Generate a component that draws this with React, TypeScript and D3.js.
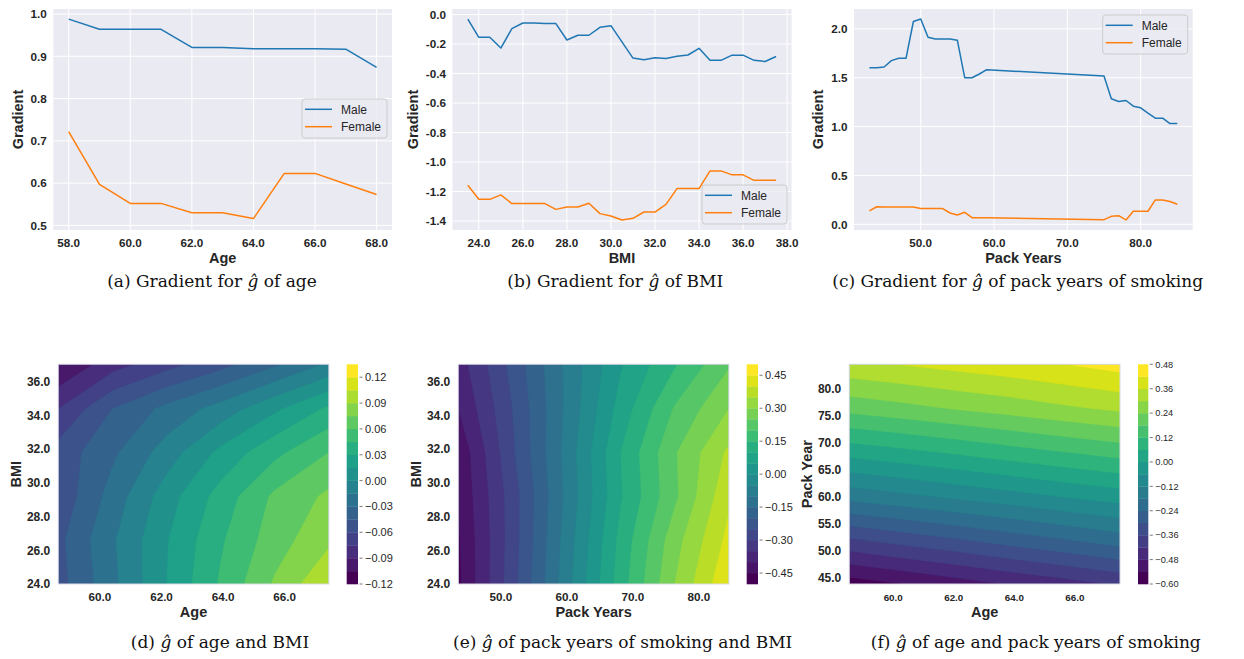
import React from "react";
import * as d3 from "d3";

const SANS = "'Liberation Sans', Arial, sans-serif";
const SERIF = "'DejaVu Serif', serif";
const INK = "#262626";

// ---- (a) gradient of g over age
const ageX = [58, 59, 60, 61, 62, 63, 64, 65, 66, 67, 68];
const ageMale = [0.988, 0.964, 0.964, 0.964, 0.921, 0.921, 0.918, 0.918, 0.918, 0.917, 0.874];
const ageFemale = [0.722, 0.597, 0.552, 0.552, 0.53, 0.53, 0.516, 0.623, 0.623, 0.598, 0.573];

// ---- (b) gradient over BMI
const bmiX = [23.5, 24, 24.5, 25, 25.5, 26, 26.5, 27, 27.5, 28, 28.5, 29, 29.5, 30, 30.5, 31, 31.5, 32, 32.5, 33, 33.5, 34, 34.5, 35, 35.5, 36, 36.5, 37, 37.5];
const bmiMale = [-0.03, -0.154, -0.154, -0.227, -0.095, -0.057, -0.057, -0.061, -0.061, -0.172, -0.14, -0.14, -0.086, -0.075, -0.185, -0.295, -0.306, -0.292, -0.297, -0.283, -0.274, -0.229, -0.31, -0.31, -0.275, -0.275, -0.31, -0.318, -0.284];
const bmiFemale = [-1.158, -1.253, -1.253, -1.223, -1.282, -1.282, -1.282, -1.282, -1.321, -1.305, -1.305, -1.28, -1.35, -1.366, -1.393, -1.382, -1.339, -1.339, -1.287, -1.18, -1.18, -1.18, -1.06, -1.06, -1.087, -1.087, -1.124, -1.124, -1.124];

// ---- (c) gradient over pack years
const packX = [43, 44, 45, 46, 47, 48, 49, 50, 51, 52, 53, 54, 55, 56, 57, 58, 59, 75, 76, 77, 78, 79, 80, 81, 82, 83, 84, 85];
const packMale = [1.603, 1.603, 1.61, 1.675, 1.7, 1.7, 2.075, 2.1, 1.914, 1.897, 1.897, 1.897, 1.883, 1.5, 1.5, 1.538, 1.582, 1.517, 1.284, 1.257, 1.267, 1.209, 1.192, 1.137, 1.086, 1.086, 1.031, 1.031];
const packFemale = [0.137, 0.18, 0.178, 0.178, 0.178, 0.178, 0.178, 0.161, 0.161, 0.161, 0.161, 0.116, 0.096, 0.123, 0.068, 0.068, 0.068, 0.048, 0.082, 0.089, 0.045, 0.134, 0.134, 0.134, 0.25, 0.25, 0.233, 0.205];

// ---- (d) g over age x BMI (rows = BMI ascending)
const dAge = [58.65, 60.4, 62.2, 63.9, 65.7, 67.43];
const dBmi = [24, 26.6, 29.2, 31.8, 34.4, 37];
const dGrid = [
  [-0.051, -0.019, 0.015, 0.047, 0.077, 0.104],
  [-0.049, -0.017, 0.014, 0.043, 0.068, 0.087],
  [-0.056, -0.024, 0.008, 0.036, 0.063, 0.078],
  [-0.054, -0.033, -0.008, 0.019, 0.041, 0.06],
  [-0.075, -0.045, -0.026, -0.009, 0.012, 0.033],
  [-0.105, -0.081, -0.065, -0.05, -0.032, -0.012],
];
const dLevels = [-0.12, -0.105, -0.09, -0.075, -0.06, -0.045, -0.03, -0.015, 0, 0.015, 0.03, 0.045, 0.06, 0.075, 0.09, 0.105, 0.12, 0.135];
const dBarTicks = [-0.12, -0.09, -0.06, -0.03, 0, 0.03, 0.06, 0.09, 0.12];

// ---- (e) g over pack years x BMI
const ePack = [43.55, 51.75, 59.95, 68.15, 76.35, 84.53];
const eBmi = [24, 26.6, 29.2, 31.8, 34.4, 37];
const eGrid = [
  [-0.46, -0.27, -0.07, 0.125, 0.3, 0.445],
  [-0.455, -0.275, -0.078, 0.115, 0.28, 0.415],
  [-0.445, -0.275, -0.088, 0.095, 0.24, 0.39],
  [-0.44, -0.258, -0.083, 0.1, 0.245, 0.36],
  [-0.4, -0.25, -0.09, 0.07, 0.205, 0.3],
  [-0.375, -0.235, -0.09, 0.045, 0.145, 0.245],
];
const eLevels = [-0.5, -0.45, -0.4, -0.35, -0.3, -0.25, -0.2, -0.15, -0.1, -0.05, 0, 0.05, 0.1, 0.15, 0.2, 0.25, 0.3, 0.35, 0.4, 0.45, 0.5];
const eBarTicks = [-0.45, -0.3, -0.15, 0, 0.15, 0.3, 0.45];

// ---- (f) g over age x pack years
const fAge = [58.55, 60.34, 62.13, 63.92, 65.71, 67.49];
const fPack = [43.76, 51.9, 60.03, 68.17, 76.3, 84.44];
const fGrid = [
  [-0.57, -0.54, -0.507, -0.474, -0.444, -0.411],
  [-0.369, -0.336, -0.306, -0.273, -0.243, -0.21],
  [-0.156, -0.132, -0.105, -0.081, -0.054, -0.03],
  [0.021, 0.045, 0.069, 0.096, 0.12, 0.144],
  [0.201, 0.222, 0.246, 0.267, 0.291, 0.312],
  [0.345, 0.363, 0.381, 0.399, 0.42, 0.444],
];
const fLevels = [-0.6, -0.54, -0.48, -0.42, -0.36, -0.3, -0.24, -0.18, -0.12, -0.06, 0, 0.06, 0.12, 0.18, 0.24, 0.3, 0.36, 0.42, 0.48];
const fBarTicks = [-0.6, -0.48, -0.36, -0.24, -0.12, 0, 0.12, 0.24, 0.36, 0.48];

const seriesNames = ["Male", "Female"];
const seriesColors = ["#1f77b4", "#ff7f0e"];

type Rect = { x0: number; x1: number; y0: number; y1: number };

function Caption({ x, y, pre, post }: { x: number; y: number; pre: string; post: string }) {
  return (
    <text x={x} y={y} textAnchor="middle" fontFamily={SERIF} fontSize={17} fill="#111">
      {pre}
      <tspan fontStyle="italic">ĝ</tspan>
      {post}
    </text>
  );
}

function LinePanel(props: {
  rect: Rect; xDomain: [number, number]; yDomain: [number, number];
  xTicks: number[]; yTicks: number[]; xs: number[]; ys: number[][];
  xLabel: string; yLabelX: number; legend: [number, number];
}) {
  const { rect, xDomain, yDomain, xTicks, yTicks, xs, ys, xLabel, yLabelX, legend } = props;
  const x = d3.scaleLinear().domain(xDomain).range([rect.x0, rect.x1]);
  const y = d3.scaleLinear().domain(yDomain).range([rect.y1, rect.y0]);
  const line = d3.line<number>().x((_, i) => x(xs[i])).y((d) => y(d));
  const cy = (rect.y0 + rect.y1) / 2;
  return (
    <g>
      <rect x={rect.x0} y={rect.y0} width={rect.x1 - rect.x0} height={rect.y1 - rect.y0} fill="#eaeaf2" />
      {xTicks.map((t) => (
        <line key={"gx" + t} x1={x(t)} x2={x(t)} y1={rect.y0} y2={rect.y1} stroke="#fff" strokeWidth={1} />
      ))}
      {yTicks.map((t) => (
        <line key={"gy" + t} x1={rect.x0} x2={rect.x1} y1={y(t)} y2={y(t)} stroke="#fff" strokeWidth={1} />
      ))}
      {ys.map((s, i) => (
        <path key={i} d={line(s) || ""} fill="none" stroke={seriesColors[i]} strokeWidth={1.5} strokeLinejoin="round" />
      ))}
      {xTicks.map((t) => (
        <text key={"tx" + t} x={x(t)} y={rect.y1 + 17} textAnchor="middle" fontFamily={SANS} fontWeight="bold" fontSize={11.7} fill={INK}>
          {t.toFixed(1)}
        </text>
      ))}
      {yTicks.map((t) => (
        <text key={"ty" + t} x={rect.x0 - 6.5} y={y(t)} dy="0.36em" textAnchor="end" fontFamily={SANS} fontWeight="bold" fontSize={11.7} fill={INK}>
          {t.toFixed(1)}
        </text>
      ))}
      <text x={(rect.x0 + rect.x1) / 2} y={rect.y1 + 33} textAnchor="middle" fontFamily={SANS} fontWeight="bold" fontSize={14.5} fill={INK}>
        {xLabel}
      </text>
      <text transform={`translate(${yLabelX},${cy}) rotate(-90)`} textAnchor="middle" fontFamily={SANS} fontWeight="bold" fontSize={14.5} fill={INK}>
        Gradient
      </text>
      <g transform={`translate(${legend[0]},${legend[1]})`}>
        <rect x={0} y={0} width={85} height={39} rx={3} fill="#eaeaf2" fillOpacity={0.8} stroke="#cccccc" strokeWidth={1} />
        {seriesNames.map((nm, i) => (
          <g key={nm}>
            <line x1={3} x2={30} y1={10.3 + i * 17.4} y2={10.3 + i * 17.4} stroke={seriesColors[i]} strokeWidth={1.5} />
            <text x={39} y={14.6 + i * 17.4} fontFamily={SANS} fontSize={12} fill={INK}>{nm}</text>
          </g>
        ))}
      </g>
    </g>
  );
}

function ContourPanel(props: {
  id: string; rect: Rect; xDomain: [number, number]; yDomain: [number, number];
  gxs: number[]; gys: number[]; grid: number[][]; levels: number[];
  xTicks: number[]; yTicks: number[]; xTickSize: number; yTickSize: number;
  xLabel: string; yLabel: string; yLabelX: number;
  barX: number; barW: number; barTicks: number[]; barFont: number;
}) {
  const p = props;
  const { rect } = p;
  const x = d3.scaleLinear().domain(p.xDomain).range([rect.x0, rect.x1]);
  const y = d3.scaleLinear().domain(p.yDomain).range([rect.y1, rect.y0]);
  const n = p.gxs.length;
  const m = p.gys.length;
  // d3.contours puts grid value i at i + 0.5
  const gx = d3.scaleLinear().domain([0.5, n - 0.5]).range([x(p.gxs[0]), x(p.gxs[n - 1])]);
  const gy = d3.scaleLinear().domain([0.5, m - 0.5]).range([y(p.gys[0]), y(p.gys[m - 1])]);
  const nb = p.levels.length - 1;
  const color = (i: number) => d3.interpolateViridis(i / (nb - 1));
  const bands = d3.contours().size([n, m]).thresholds(p.levels.slice(0, -1))(p.grid.flat());
  const toPath = (mp: d3.ContourMultiPolygon) =>
    mp.coordinates
      .map((poly) =>
        poly.map((ring) => "M" + ring.map(([a, b]) => `${gx(a).toFixed(2)},${gy(b).toFixed(2)}`).join("L") + "Z").join("")
      )
      .join("");
  const cb = d3.scaleLinear().domain([p.levels[0], p.levels[nb]]).range([rect.y1, rect.y0]);
  const fmt = d3.format(".2f");
  return (
    <g>
      <defs>
        <clipPath id={p.id}>
          <rect x={rect.x0} y={rect.y0} width={rect.x1 - rect.x0} height={rect.y1 - rect.y0} />
        </clipPath>
      </defs>
      <g clipPath={`url(#${p.id})`}>
        {bands.map((b, i) => (
          <path key={i} d={toPath(b)} fill={color(i)} stroke={color(i)} strokeWidth={0.3} />
        ))}
      </g>
      <rect x={rect.x0} y={rect.y0} width={rect.x1 - rect.x0} height={rect.y1 - rect.y0} fill="none" stroke="#d8d8e4" strokeWidth={1} />
      {p.xTicks.map((t) => (
        <text key={"tx" + t} x={x(t)} y={rect.y1 + 16.5} textAnchor="middle" fontFamily={SANS} fontWeight="bold" fontSize={p.xTickSize} fill={INK}>
          {t.toFixed(1)}
        </text>
      ))}
      {p.yTicks.map((t) => (
        <text key={"ty" + t} x={rect.x0 - 8} y={y(t)} dy="0.36em" textAnchor="end" fontFamily={SANS} fontWeight="bold" fontSize={p.yTickSize} fill={INK}>
          {t.toFixed(1)}
        </text>
      ))}
      <text x={(rect.x0 + rect.x1) / 2} y={rect.y1 + 32.7} textAnchor="middle" fontFamily={SANS} fontWeight="bold" fontSize={14.5} fill={INK}>
        {p.xLabel}
      </text>
      <text transform={`translate(${p.yLabelX},${(rect.y0 + rect.y1) / 2}) rotate(-90)`} textAnchor="middle" fontFamily={SANS} fontWeight="bold" fontSize={14.5} fill={INK}>
        {p.yLabel}
      </text>
      {d3.range(nb).map((i) => (
        <rect key={"cb" + i} x={p.barX} width={p.barW} y={cb(p.levels[i + 1])} height={cb(p.levels[i]) - cb(p.levels[i + 1]) + 0.3} fill={color(i)} />
      ))}
      {p.barTicks.map((t) => (
        <g key={"bt" + t}>
          <line x1={p.barX + p.barW + 1.5} x2={p.barX + p.barW + 4.5} y1={cb(t)} y2={cb(t)} stroke="#555" strokeWidth={0.8} />
          <text x={p.barX + p.barW + 7} y={cb(t)} dy="0.36em" fontFamily={SANS} fontSize={p.barFont} fill={INK}>
            {fmt(t)}
          </text>
        </g>
      ))}
    </g>
  );
}

export default function App() {
  return (
    <svg width={1244} height={659} viewBox="0 0 1244 659" style={{ position: "absolute", left: 0, top: 0, background: "#fff" }}>
      <LinePanel rect={{ x0: 53.3, x1: 392, y0: 9, y1: 230 }} xDomain={[57.5, 68.5]} yDomain={[0.489, 1.012]}
        xTicks={[58, 60, 62, 64, 66, 68]} yTicks={[0.5, 0.6, 0.7, 0.8, 0.9, 1.0]}
        xs={ageX} ys={[ageMale, ageFemale]} xLabel="Age" yLabelX={23.3} legend={[302, 99]} />
      <LinePanel rect={{ x0: 452.4, x1: 791.5, y0: 9, y1: 230 }} xDomain={[22.8, 38.2]} yDomain={[-1.461, 0.038]}
        xTicks={[24, 26, 28, 30, 32, 34, 36, 38]} yTicks={[0, -0.2, -0.4, -0.6, -0.8, -1.0, -1.2, -1.4]}
        xs={bmiX} ys={[bmiMale, bmiFemale]} xLabel="BMI" yLabelX={418} legend={[702, 185]} />
      <LinePanel rect={{ x0: 854, x1: 1192.7, y0: 9, y1: 230 }} xDomain={[40.9, 87.1]} yDomain={[-0.058, 2.203]}
        xTicks={[50, 60, 70, 80]} yTicks={[0, 0.5, 1.0, 1.5, 2.0]}
        xs={packX} ys={[packMale, packFemale]} xLabel="Pack Years" yLabelX={823} legend={[1102.7, 15]} />

      <Caption x={212} y={287.3} pre="(a) Gradient for " post=" of age" />
      <Caption x={615.3} y={287.3} pre="(b) Gradient for " post=" of BMI" />
      <Caption x={1017.7} y={287.3} pre="(c) Gradient for " post=" of pack years of smoking" />

      <ContourPanel id="clip-d" rect={{ x0: 58.3, x1: 328.8, y0: 364.3, y1: 584 }} xDomain={[58.65, 67.43]} yDomain={[24, 37.03]}
        gxs={dAge} gys={dBmi} grid={dGrid} levels={dLevels}
        xTicks={[60, 62, 64, 66]} yTicks={[24, 26, 28, 30, 32, 34, 36]} xTickSize={11.7} yTickSize={12}
        xLabel="Age" yLabel="BMI" yLabelX={20.7} barX={346.7} barW={11.3} barTicks={dBarTicks} barFont={11} />
      <ContourPanel id="clip-e" rect={{ x0: 458.3, x1: 728.8, y0: 364.3, y1: 584 }} xDomain={[43.55, 84.53]} yDomain={[24, 37.03]}
        gxs={ePack} gys={eBmi} grid={eGrid} levels={eLevels}
        xTicks={[50, 60, 70, 80]} yTicks={[24, 26, 28, 30, 32, 34, 36]} xTickSize={11.7} yTickSize={12}
        xLabel="Pack Years" yLabel="BMI" yLabelX={420.7} barX={746.7} barW={11.3} barTicks={eBarTicks} barFont={11} />
      <ContourPanel id="clip-f" rect={{ x0: 849.3, x1: 1120, y0: 364.3, y1: 584 }} xDomain={[58.55, 67.49]} yDomain={[43.76, 84.44]}
        gxs={fAge} gys={fPack} grid={fGrid} levels={fLevels}
        xTicks={[60, 62, 64, 66]} yTicks={[45, 50, 55, 60, 65, 70, 75, 80]} xTickSize={9.8} yTickSize={12}
        xLabel="Age" yLabel="Pack Year" yLabelX={811.7} barX={1138} barW={10.3} barTicks={fBarTicks} barFont={9.2} />

      <Caption x={220} y={647.5} pre="(d) " post=" of age and BMI" />
      <Caption x={622.7} y={647.5} pre="(e) " post=" of pack years of smoking and BMI" />
      <Caption x={1035.8} y={647.5} pre="(f) " post=" of age and pack years of smoking" />
    </svg>
  );
}
